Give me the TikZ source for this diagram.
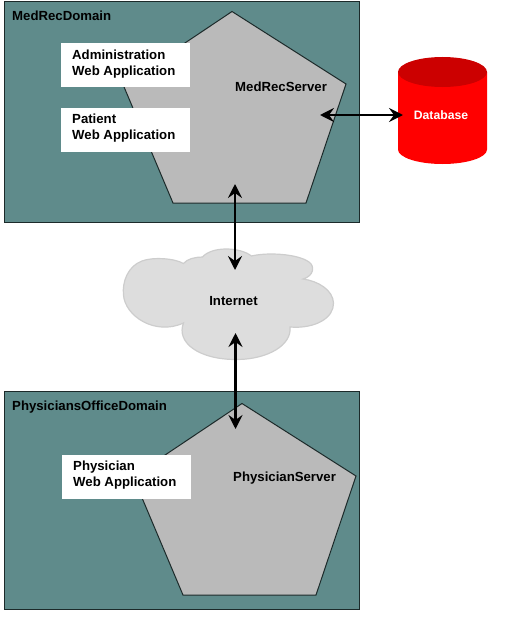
\documentclass[tikz,border=0pt]{standalone}
\usepackage{fontspec}
\setmainfont{Liberation Sans}
\usetikzlibrary{arrows.meta}
\definecolor{domainfill}{HTML}{5F8B8B}
\definecolor{serverfill}{HTML}{BABABA}
\definecolor{edgedark}{HTML}{1C2A2A}
\definecolor{cloudfill}{HTML}{DDDDDD}
\definecolor{cloudedge}{HTML}{CDCDCD}
\definecolor{dbtop}{HTML}{CC0000}
\tikzset{
  domainbox/.style={draw=edgedark,fill=domainfill,line width=1pt},
  serverpent/.style={draw=edgedark,fill=serverfill,line width=1pt,line join=miter},
  appbox/.style={fill=white,draw=none},
  lbl/.style={font=\fontsize{13.2}{16}\selectfont\bfseries,inner sep=0pt,anchor=west,align=left,text=black},
  link/.style={line width=2.5pt,{Stealth[length=14pt,width=14pt,inset=5pt]}-{Stealth[length=14pt,width=14pt,inset=5pt]},black},
}
\begin{document}
\begin{tikzpicture}[x=1pt,y=-1pt]
\useasboundingbox (0,0) rectangle (522,618);
% domains
\draw[domainbox] (4.5,1.5) rectangle (359,222);
\draw[domainbox] (4.5,391) rectangle (359,609);
% servers
\draw[serverpent] (232,11.5) -- (346,84) -- (306,203) -- (173,203) -- (123,84.5) -- cycle;
\draw[serverpent] (242,403.5) -- (356,476) -- (316,595) -- (183,595) -- (133,476.5) -- cycle;
% app boxes
\fill[appbox] (61,43) rectangle (190,87);
\fill[appbox] (61,108) rectangle (190,152);
\fill[appbox] (62,455) rectangle (191,499);
% database
\fill[red] (398,72) -- (398,149.5) arc[start angle=180,end angle=0,x radius=44.5,y radius=14.5] -- (487,72) -- cycle;
\fill[dbtop] (442.5,72) ellipse[x radius=44.5,y radius=15];
% cloud
\draw[fill=cloudfill,draw=cloudedge,line width=1.2pt]
  (183.5,263.5) .. controls (174,258) and (152,257) .. (142,261)
  .. controls (128,266) and (122,282) .. (123.5,295)
  .. controls (125,316) and (155,336) .. (183.5,323)
  .. controls (176,342) and (198,360) .. (238,359.5)
  .. controls (268,359) and (292,345) .. (290,327)
  .. controls (315,329) and (334,318) .. (333.5,303)
  .. controls (333,290) and (318,281) .. (303,279)
  .. controls (314,276) and (315,266) .. (309,262)
  .. controls (298,254) and (268,252) .. (251.5,256)
  .. controls (240,247) and (212,246) .. (202.5,257)
  .. controls (195,257) and (187,259) .. (183.5,263.5) -- cycle;
% labels
\node[lbl] (medrecdomain) at (12,15.5) {MedRecDomain};
\node[lbl] (adminapp) at (72,64) {Administration\\Web Application};
\node[lbl] (patientapp) at (72,128) {Patient\\Web Application};
\node[lbl] (medrecserver) at (235,87) {MedRecServer};
\node[lbl,text=white,anchor=center,font=\fontsize{12.2}{16}\selectfont\bfseries] (database) at (441,115) {Database};
\node[lbl,anchor=center] (internet) at (233.5,301) {Internet};
\node[lbl] (officedomain) at (12,407) {PhysiciansOfficeDomain};
\node[lbl] (physicianapp) at (73,475) {Physician\\Web Application};
\node[lbl] (physicianserver) at (233,478) {PhysicianServer};
% connector ends
\coordinate (srvEast) at (320,115);
\coordinate (dbWest) at (403,115);
\coordinate (srvSouth) at (235,184);
\coordinate (cloudNorth) at (235,270);
\coordinate (cloudSouth) at (235.5,333);
\coordinate (physNorth) at (235.5,429);
\draw[link] (srvEast) -- (dbWest);
\draw[link] (srvSouth) -- (cloudNorth);
\draw[link] (cloudSouth) -- (physNorth);
\end{tikzpicture}
\end{document}
